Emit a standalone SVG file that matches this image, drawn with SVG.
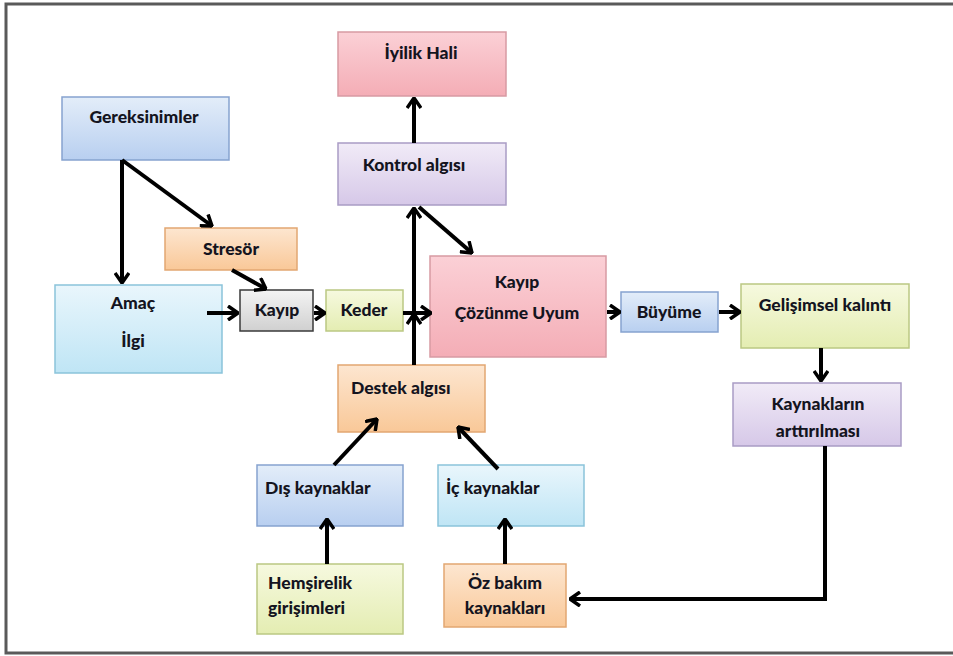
<svg xmlns="http://www.w3.org/2000/svg" width="953" height="656" viewBox="0 0 953 656">
<defs>
<linearGradient id="gPink" x1="0" y1="0" x2="0" y2="1"><stop offset="0" stop-color="#fbd0d6"/><stop offset="1" stop-color="#f4adb6"/></linearGradient>
<linearGradient id="gBlue" x1="0" y1="0" x2="0" y2="1"><stop offset="0" stop-color="#e3edf9"/><stop offset="1" stop-color="#b8cff0"/></linearGradient>
<linearGradient id="gCyan" x1="0" y1="0" x2="0" y2="1"><stop offset="0" stop-color="#e9f6fc"/><stop offset="1" stop-color="#bfe5f5"/></linearGradient>
<linearGradient id="gLav" x1="0" y1="0" x2="0" y2="1"><stop offset="0" stop-color="#f1ebf7"/><stop offset="1" stop-color="#d6c8e8"/></linearGradient>
<linearGradient id="gOr" x1="0" y1="0" x2="0" y2="1"><stop offset="0" stop-color="#fde6d0"/><stop offset="1" stop-color="#f9c898"/></linearGradient>
<linearGradient id="gGreen" x1="0" y1="0" x2="0" y2="1"><stop offset="0" stop-color="#f6f9df"/><stop offset="1" stop-color="#e4edb2"/></linearGradient>
<linearGradient id="gGray" x1="0" y1="0" x2="0" y2="1"><stop offset="0" stop-color="#f4f4f4"/><stop offset="1" stop-color="#d0d0d0"/></linearGradient>
<marker id="ah" viewBox="0 0 12 16" refX="11" refY="8" markerWidth="12" markerHeight="16" markerUnits="userSpaceOnUse" orient="auto">
<path d="M1,1 L11,8 L1,15" fill="none" stroke="#000" stroke-width="3.5"/>
</marker>
</defs>
<style>
.box{stroke-width:1.5}
.pink{fill:url(#gPink);stroke:#d79aa3}
.blue{fill:url(#gBlue);stroke:#86a3cf}
.cyan{fill:url(#gCyan);stroke:#8ac3da}
.lav{fill:url(#gLav);stroke:#a99cc5}
.or{fill:url(#gOr);stroke:#e2a772}
.green{fill:url(#gGreen);stroke:#bbc883}
.gray{fill:url(#gGray);stroke:#3a3a3a}
text{font-family:Lato,"Liberation Sans",sans-serif;font-weight:900;font-size:17.5px;fill:#141420;text-anchor:middle}
text.l{text-anchor:start}
.c{stroke:#000;stroke-width:4;fill:none;marker-end:url(#ah)}
.frame{stroke:#5a5a5a;stroke-width:3;fill:none}
</style>
<rect width="953" height="656" fill="#fff"/>
<path class="frame" d="M953,4 L6,4 L6,653 L953,653"/>

<g id="iyilik"><rect class="box pink" x="338" y="32" width="168" height="64"/><text x="421" y="59">İyilik Hali</text></g>
<g id="gereksinimler"><rect class="box blue" x="62" y="97" width="167" height="63"/><text x="144" y="123">Gereksinimler</text></g>
<g id="kontrol"><rect class="box lav" x="338" y="143" width="168" height="62"/><text x="414" y="171">Kontrol algısı</text></g>
<g id="stresor"><rect class="box or" x="165" y="228" width="132" height="42"/><text x="231" y="255">Stresör</text></g>
<g id="amac"><rect class="box cyan" x="55" y="285" width="167" height="88"/><text x="133" y="309">Amaç</text><text x="133" y="347">İlgi</text></g>
<g id="kayip"><rect class="box gray" x="240" y="290" width="73" height="41"/><text x="277" y="316">Kayıp</text></g>
<g id="keder"><rect class="box green" x="326" y="290" width="77" height="41"/><text x="364" y="316">Keder</text></g>
<g id="cozunme"><rect class="box pink" x="430" y="256" width="176" height="101"/><text x="517" y="288">Kayıp</text><text x="517" y="319">Çözünme Uyum</text></g>
<g id="buyume"><rect class="box blue" x="621" y="292" width="97" height="40"/><text x="669" y="318">Büyüme</text></g>
<g id="gelisimsel"><rect class="box green" x="741" y="284" width="168" height="64"/><text x="825" y="311">Gelişimsel kalıntı</text></g>
<g id="kaynaklarin"><rect class="box lav" x="733" y="383" width="168" height="63"/><text x="818" y="410">Kaynakların</text><text x="818" y="437">arttırılması</text></g>
<g id="destek"><rect class="box or" x="338" y="365" width="147" height="67"/><text class="l" x="351" y="394">Destek algısı</text></g>
<g id="dis"><rect class="box blue" x="257" y="465" width="146" height="61"/><text class="l" x="265" y="494">Dış kaynaklar</text></g>
<g id="ic"><rect class="box cyan" x="438" y="465" width="146" height="61"/><text class="l" x="446" y="494">İç kaynaklar</text></g>
<g id="hemsirelik"><rect class="box green" x="257" y="564" width="146" height="70"/><text class="l" x="268" y="589">Hemşirelik</text><text class="l" x="268" y="614">girişimleri</text></g>
<g id="ozbakim"><rect class="box or" x="444" y="564" width="122" height="63"/><text x="505" y="589">Öz bakım</text><text x="505" y="614">kaynakları</text></g>

<g id="connectors">
<path class="c" d="M414,143 L414,98"/>
<path class="c" d="M122,160 L122,283"/>
<path class="c" d="M122,160 L212,226"/>
<path class="c" d="M232,270 L266,289"/>
<path class="c" d="M207,313 L238,313"/>
<path class="c" d="M314,313 L325,313"/>
<path class="c" d="M403,313 L431,313"/>
<path class="c" d="M414,365 L414,208"/>
<path class="c" d="M414,365 L414,314"/>
<path class="c" d="M419,207 L472,253"/>
<path class="c" d="M607,312 L620,312"/>
<path class="c" d="M719,312 L740,312"/>
<path class="c" d="M821,348 L821,381"/>
<path class="c" d="M825,446 L825,599 L570,599"/>
<path class="c" d="M334,465 L377,419"/>
<path class="c" d="M498,469 L458,427"/>
<path class="c" d="M327,564 L327,519"/>
<path class="c" d="M505,564 L505,519"/>
</g>
</svg>
